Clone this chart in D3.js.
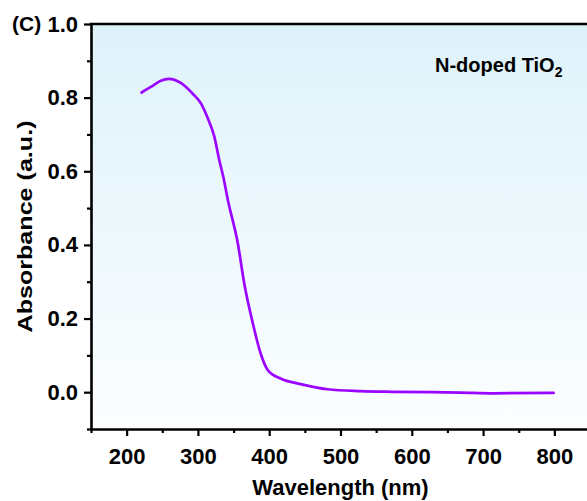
<!DOCTYPE html>
<html>
<head>
<meta charset="utf-8">
<script src="https://cdn.jsdelivr.net/npm/d3@7"></script>
<style>
  body { margin: 0; background: #fff; }
  svg { display: block; }
</style>
</head>
<body>
<script>
// UV-vis spectrum, N-doped TiO2
const wavelength = [221, 234, 248, 259, 276, 292, 304, 313, 323, 330, 336, 342, 356, 365, 377, 388, 398, 416, 444, 482, 528, 574, 668, 715, 799]
const absorbance = [0.814, 0.829, 0.846, 0.851, 0.840, 0.812, 0.785, 0.748, 0.694, 0.630, 0.581, 0.522, 0.404, 0.295, 0.187, 0.105, 0.060, 0.037, 0.022, 0.008, 0.003, 0.001, -0.001, -0.003, -0.002]
const xTicks = [200, 300, 400, 500, 600, 700, 800]
const yTicks = [0.0, 0.2, 0.4, 0.6, 0.8, 1.0]

const W = 587, H = 501
const margin = { top: 24, right: -3, bottom: 72, left: 91 }
const font = "'Liberation Sans', Arial, sans-serif"

const svg = d3.select('body').append('svg')
  .attr('width', W).attr('height', H)

const x = d3.scaleLinear().domain([150, 850]).range([margin.left, W - margin.right])
const y = d3.scaleLinear().domain([-0.1, 1.0]).range([H - margin.bottom, margin.top])

// background gradient
const grad = svg.append('defs').append('linearGradient')
  .attr('id', 'bg').attr('x1', 0).attr('y1', 0).attr('x2', 0).attr('y2', 1)
grad.append('stop').attr('offset', '0%').attr('stop-color', '#def2fa')
grad.append('stop').attr('offset', '100%').attr('stop-color', '#fcfeff')

svg.append('rect')
  .attr('x', x(150)).attr('y', y(1.0))
  .attr('width', x(850) - x(150)).attr('height', y(-0.1) - y(1.0))
  .attr('fill', 'url(#bg)')

// curve
const data = wavelength.map((w, i) => ({ w, a: absorbance[i] }))
svg.append('path')
  .datum(data)
  .attr('fill', 'none')
  .attr('stroke', '#9b05ff')
  .attr('stroke-width', 2.7)
  .attr('stroke-linecap', 'round')
  .attr('d', d3.line().x(d => x(d.w)).y(d => y(d.a)).curve(d3.curveMonotoneX))

// axes
const xAxis = svg.append('g')
  .attr('transform', `translate(0,${y(-0.1)})`)
  .call(d3.axisBottom(x).tickValues(xTicks).tickSize(7).tickSizeOuter(0).tickPadding(12).tickFormat(d3.format('d')))
const xMinor = svg.append('g')
  .attr('transform', `translate(0,${y(-0.1)})`)
  .call(d3.axisBottom(x).tickValues(d3.range(150, 851, 100)).tickSize(4).tickFormat(''))
xMinor.select('.domain').remove()

const yAxis = svg.append('g')
  .attr('transform', `translate(${x(150)},0)`)
  .call(d3.axisLeft(y).tickValues(yTicks).tickSize(7).tickSizeOuter(0).tickPadding(6).tickFormat(d3.format('.1f')))
const yMinor = svg.append('g')
  .attr('transform', `translate(${x(150)},0)`)
  .call(d3.axisLeft(y).tickValues([-0.1, 0.1, 0.3, 0.5, 0.7, 0.9]).tickSize(4).tickFormat(''))
yMinor.select('.domain').remove()

svg.selectAll('.domain').attr('stroke', '#000').attr('stroke-width', 2.6)
svg.selectAll('.tick line').attr('stroke', '#000').attr('stroke-width', 2.2)
svg.selectAll('.tick text')
  .style('font-family', font).style('font-weight', 700).style('font-size', '22px').attr('fill', '#000')

// top + right frame
svg.append('line')
  .attr('x1', x(150) - 1.3).attr('x2', x(850)).attr('y1', y(1.0)).attr('y2', y(1.0))
  .attr('stroke', '#000').attr('stroke-width', 2.6)
svg.append('line')
  .attr('x1', x(850)).attr('x2', x(850)).attr('y1', y(1.0)).attr('y2', y(-0.1))
  .attr('stroke', '#000').attr('stroke-width', 2.6)

// labels
svg.append('text')
  .attr('x', (x(150) + x(850)) / 2).attr('y', 495)
  .attr('text-anchor', 'middle')
  .style('font-family', font).style('font-size', '22px').style('font-weight', 700)
  .text('Wavelength (nm)')

svg.append('text')
  .attr('transform', `translate(32,${(y(1.0) + y(-0.1)) / 2}) rotate(-90)`)
  .attr('text-anchor', 'middle')
  .attr('textLength', 212).attr('lengthAdjust', 'spacingAndGlyphs')
  .style('font-family', font).style('font-size', '21px').style('font-weight', 700)
  .text('Absorbance (a.u.)')

svg.append('text')
  .attr('x', 12).attr('y', 31)
  .style('font-family', font).style('font-size', '21px').style('font-weight', 700)
  .text('(C)')

const note = svg.append('text')
  .attr('x', 435).attr('y', 72)
  .style('font-family', font).style('font-size', '20px').style('font-weight', 700)
note.append('tspan').text('N-doped TiO')
note.append('tspan').attr('dy', 5).style('font-size', '14px').text('2')
</script>
</body>
</html>
